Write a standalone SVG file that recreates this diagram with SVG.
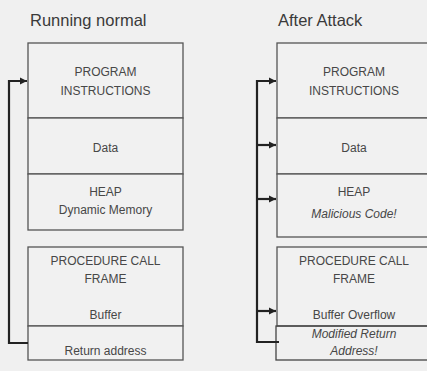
<svg xmlns="http://www.w3.org/2000/svg" width="427" height="371" viewBox="0 0 427 371">
<defs>
<style>
.bg{fill:#f0f0f0}
.box{fill:#f1f1f1;stroke:#555;stroke-width:1.3}
.t{font-family:"Liberation Sans",Arial,sans-serif;font-size:12px;fill:#474747;text-anchor:middle}
.i{font-style:italic}
.title{font-family:"Liberation Sans",Arial,sans-serif;font-size:16.5px;fill:#3a3a3a}
.c{fill:none;stroke:#222;stroke-width:2.2}
</style>
<marker id="ah" viewBox="0 0 10 10" refX="10" refY="5" markerWidth="3.4" markerHeight="3.4" orient="auto" markerUnits="strokeWidth">
<path d="M0,0 L10,5 L0,10 Z" fill="#222"/>
</marker>
</defs>
<rect class="bg" x="0" y="0" width="427" height="371"/>
<text class="title" x="30" y="26">Running normal</text>
<text class="title" x="278" y="26">After Attack</text>

<g id="left-program">
<rect class="box" x="28" y="43" width="155" height="75"/>
<text class="t" x="105.5" y="76">PROGRAM</text>
<text class="t" x="105.5" y="95">INSTRUCTIONS</text>
</g>
<g id="left-data">
<rect class="box" x="28" y="118" width="155" height="56"/>
<text class="t" x="105.5" y="152">Data</text>
</g>
<g id="left-heap">
<rect class="box" x="28" y="174" width="155" height="56"/>
<text class="t" x="105.5" y="196">HEAP</text>
<text class="t" x="105.5" y="214">Dynamic Memory</text>
</g>
<g id="left-frame">
<rect class="box" x="28" y="247" width="155" height="79"/>
<text class="t" x="105.5" y="265">PROCEDURE CALL</text>
<text class="t" x="105.5" y="283">FRAME</text>
<text class="t" x="105.5" y="319">Buffer</text>
</g>
<g id="left-return">
<rect class="box" x="28" y="326" width="155" height="34"/>
<text class="t" x="105.5" y="355">Return address</text>
</g>

<g id="right-program">
<rect class="box" x="277" y="43" width="155" height="75"/>
<text class="t" x="354" y="76">PROGRAM</text>
<text class="t" x="354" y="95">INSTRUCTIONS</text>
</g>
<g id="right-data">
<rect class="box" x="277" y="118" width="155" height="56"/>
<text class="t" x="354" y="152">Data</text>
</g>
<g id="right-heap">
<rect class="box" x="277" y="174" width="155" height="63"/>
<text class="t" x="354" y="196">HEAP</text>
<text class="t i" x="354" y="218">Malicious Code!</text>
</g>
<g id="right-frame">
<rect class="box" x="277" y="247" width="155" height="79"/>
<text class="t" x="354" y="265">PROCEDURE CALL</text>
<text class="t" x="354" y="283">FRAME</text>
<text class="t" x="354" y="319">Buffer Overflow</text>
</g>
<g id="right-return">
<rect class="box" x="276" y="326" width="156" height="34" style="fill:none;stroke:#444"/>
<text class="t i" x="354" y="338">Modified Return</text>
<text class="t i" x="354" y="355">Address!</text>
</g>

<g id="connectors">
<path class="c" d="M28,343 H9 V81 H27" marker-end="url(#ah)"/>
<path class="c" d="M279,342 H257 V81 H276" marker-end="url(#ah)"/>
<path class="c" d="M257,145 H276" marker-end="url(#ah)"/>
<path class="c" d="M257,199 H276" marker-end="url(#ah)"/>
<path class="c" d="M257,311 H276" marker-end="url(#ah)"/>
</g>
</svg>
